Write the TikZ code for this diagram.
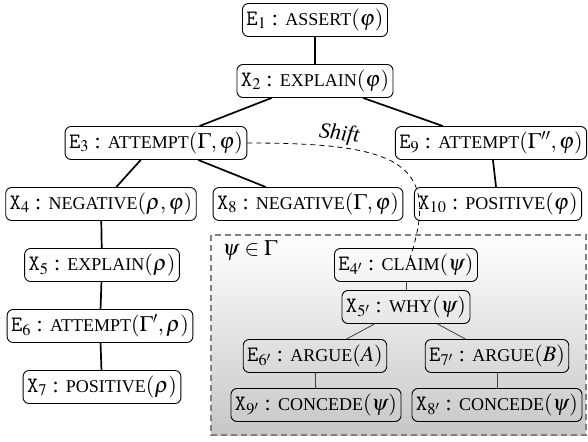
\documentclass[tikz,border=0pt]{standalone}
\usepackage{mathptmx}
\usepackage{fontspec}
\setmainfont{Liberation Serif}
\newcommand\tagE[1]{\texttt{E}$_{#1}$}
\newcommand\tagX[1]{\texttt{X}$_{#1}$}
\newcommand\smc[1]{{\fontsize{18}{20}\selectfont #1}}
\tikzset{
  nd/.style={draw, rounded corners=6pt, line width=0.9pt, minimum height=33pt,
    inner xsep=4pt, inner ysep=2pt, font=\fontsize{22}{26}\selectfont},
  tl/.style={line width=1.7pt},
  il/.style={line width=0.8pt, black!75},
  shiftline/.style={line width=0.8pt, dash pattern=on 5pt off 4pt},
  groupbox/.style={draw=black!50, line width=1.4pt, dash pattern=on 6pt off 4pt,
    top color=white, bottom color=black!22},
}
\begin{document}
\begin{tikzpicture}[x=1pt, y=1pt]
\useasboundingbox (0,0) rectangle (588,-441);
\path[groupbox] (211,-235) rectangle (586,-435);
\node[font=\fontsize{22}{26}\selectfont] (psi) at (250,-251) {$\psi\in\Gamma$};

\node[nd] (E1) at (315,-20) {\tagE{1} : \smc{ASSERT}$(\varphi)$};
\node[nd] (X2) at (315,-81) {\tagX{2} : \smc{EXPLAIN}$(\varphi)$};
\node[nd] (E3) at (156,-143) {\tagE{3} : \smc{ATTEMPT}$(\Gamma,\varphi)$};
\node[nd] (E9) at (491,-143) {\tagE{9} : \smc{ATTEMPT}$(\Gamma'',\varphi)$};
\node[nd] (X4) at (101,-204) {\tagX{4} : \smc{NEGATIVE}$(\rho,\varphi)$};
\node[nd] (X8) at (308,-204) {\tagX{8} : \smc{NEGATIVE}$(\Gamma,\varphi)$};
\node[nd] (X10) at (498,-204) {\tagX{10} : \smc{POSITIVE}$(\varphi)$};
\node[nd] (X5) at (102,-265) {\tagX{5} : \smc{EXPLAIN}$(\rho)$};
\node[nd] (E6) at (100,-326) {\tagE{6} : \smc{ATTEMPT}$(\Gamma',\rho)$};
\node[nd] (X7) at (102,-387) {\tagX{7} : \smc{POSITIVE}$(\rho)$};

\node[nd] (E4p) at (406,-265) {\tagE{4'} : \smc{CLAIM}$(\psi)$};
\node[nd] (X5p) at (406,-307) {\tagX{5'} : \smc{WHY}$(\psi)$};
\node[nd] (E6p) at (315,-356) {\tagE{6'} : \smc{ARGUE}$(A)$};
\node[nd] (E7p) at (497,-356) {\tagE{7'} : \smc{ARGUE}$(B)$};
\node[nd] (X9p) at (316,-405) {\tagX{9'} : \smc{CONCEDE}$(\psi)$};
\node[nd] (X8p) at (497,-405) {\tagX{8'} : \smc{CONCEDE}$(\psi)$};

\draw[tl] (E1) -- (X2);
\draw[tl] (X2) -- (E3);
\draw[tl] (X2) -- (E9);
\draw[tl] (E3) -- (X4);
\draw[tl] (E3) -- (X8);
\draw[tl] (E9) -- (X10);
\draw[tl] (X4) -- (X5);
\draw[tl] (X5) -- (E6);
\draw[tl] (E6) -- (X7);

\draw[il] (E4p) -- (X5p);
\draw[il] (X5p) -- (E6p);
\draw[il] (X5p) -- (E7p);
\draw[il] (E6p) -- (X9p);
\draw[il] (E7p) -- (X8p);

\draw[shiftline] (E3.east) .. controls +(150,0) and +(34,100) .. ([shift={(3,4)}]E4p.center)
  node[pos=0.24, above, sloped, inner sep=2pt, font=\fontsize{22}{26}\selectfont\itshape] {Shift};
\end{tikzpicture}
\end{document}
